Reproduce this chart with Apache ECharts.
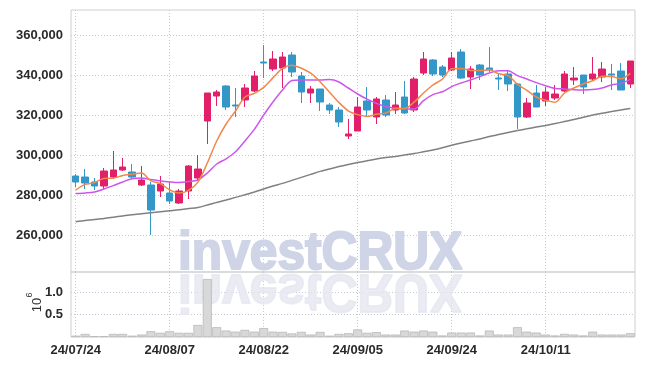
<!DOCTYPE html>
<html><head><meta charset="utf-8">
<script src="https://cdn.jsdelivr.net/npm/echarts@6/dist/echarts.min.js"></script>
<style>html,body{margin:0;padding:0;background:#fff}#c{width:645px;height:366px}</style>
</head><body><div id="c"></div>
<script>
const dates = ['24/07/24','24/07/25','24/07/26','24/07/29','24/07/30','24/07/31','24/08/01','24/08/02','24/08/05','24/08/06',
'24/08/07','24/08/08','24/08/09','24/08/12','24/08/13','24/08/14','24/08/16','24/08/19','24/08/20','24/08/21',
'24/08/22','24/08/23','24/08/26','24/08/27','24/08/28','24/08/29','24/08/30','24/09/02','24/09/03','24/09/04',
'24/09/05','24/09/06','24/09/09','24/09/10','24/09/11','24/09/12','24/09/13','24/09/19','24/09/20','24/09/23',
'24/09/24','24/09/25','24/09/26','24/09/27','24/09/30','24/10/02','24/10/04','24/10/07','24/10/08','24/10/10',
'24/10/11','24/10/14','24/10/15','24/10/16','24/10/17','24/10/18','24/10/21','24/10/22','24/10/23','24/10/24'];

const opens  = [289500,289000,286500,284500,289000,292500,291500,285000,285000,282000,
281000,276000,282000,288500,317000,329500,334500,325000,327500,332000,
346500,343000,343500,350000,339500,331000,333000,325000,322500,309500,
312000,327000,319000,327500,322500,329000,322500,341000,347500,344000,
342500,351500,339000,345000,343500,338500,340500,335500,319000,331000,
327000,328500,332000,337500,340000,338000,339000,340500,342000,335500];
const closes = [286500,286000,284500,292000,292500,294000,289000,287500,272500,285500,
277000,282000,294500,293000,331000,331500,324000,324500,333500,339500,
346000,348000,349000,341500,331500,333000,326500,322500,316500,310500,
324000,322500,328000,320000,325000,321000,338000,348000,340500,340000,
348500,338500,343000,340000,342500,338000,335500,319000,326000,324000,
331500,330500,340500,338500,334000,340500,343000,340000,332500,347000];
const lows   = [284000,283000,282500,283000,288000,292000,288500,284500,260000,279000,
275500,275500,278000,287500,305500,324500,322500,319000,324000,331500,
338500,342000,333500,339000,326000,326000,322000,320500,314000,308000,
312000,319500,315500,319000,320500,320500,321500,340000,339500,339000,
342000,338000,333000,337500,341500,332500,332000,313000,318500,324000,
324500,327500,331500,335000,330500,337500,336500,332500,332500,333500];
const highs  = [290500,293000,288500,293500,302000,298500,295500,294500,286500,289500,
286500,283000,295000,300000,331000,332500,335000,333500,335500,342000,
355000,352000,351500,351500,341500,334500,333000,326000,324000,318000,
329000,334000,329000,330000,331500,337000,339000,351500,348000,345000,
351500,353000,344500,345500,354000,340500,342000,336000,328500,335000,
334000,335000,342000,344000,340000,349000,346500,345500,346000,347000];

const ma5 = [282500,285300,286200,288300,288400,289800,290400,291000,287100,285700,
282600,281000,282300,286400,296000,307000,315500,322000,329000,330800,
333800,338700,343300,344900,343400,340900,336600,331400,326300,322100,
320200,319300,320400,321000,323200,323300,326400,331000,335000,337900,
343100,343200,342300,342200,342600,340600,339700,335300,332300,329000,
327400,326400,331000,333500,335500,337100,339400,339300,338100,340800];
const ma10 = [280700,281000,281500,283000,284700,286500,288100,288500,287700,287000,
286500,286200,286700,287500,291000,295500,298100,301600,307000,312800,
320000,326600,332500,337200,337500,337500,337500,337700,336500,333500,
330500,327900,325800,324300,323400,323000,323000,327200,330200,331600,
334200,336000,337500,339200,341000,342100,342100,339700,338000,336200,
334600,333300,333000,332600,332500,332700,333500,335000,335800,337800];
const maLong = [266600,267200,267700,268300,268900,269500,270100,270600,271100,271600,
272100,272600,273200,273800,275000,276300,277500,278800,280100,281500,
283000,284500,285800,287300,288800,290300,291800,293000,294200,295200,
296200,297100,298000,298700,299300,300000,300700,301600,302500,303600,
304900,306000,307000,308000,309200,310200,311200,312200,313100,314000,
314800,315700,316700,317700,318900,320000,320900,321700,322500,323300];

const volumes = [0.03,0.07,0.02,0.02,0.07,0.07,0.03,0.055,0.13,0.095,
0.13,0.095,0.095,0.27,1.30,0.22,0.145,0.12,0.16,0.12,
0.20,0.12,0.115,0.08,0.115,0.055,0.115,0.03,0.07,0.085,
0.17,0.095,0.11,0.055,0.055,0.145,0.12,0.145,0.12,0.035,
0.10,0.10,0.10,0.035,0.145,0.055,0.055,0.22,0.12,0.10,
0.055,0.035,0.07,0.055,0.035,0.12,0.055,0.055,0.055,0.085];

const priceTicks = [260000,280000,300000,320000,340000,360000];
const volumeTicks = [0.5,1.0];

const ohlc = dates.map((d,i)=>[opens[i], closes[i], lows[i], highs[i]]);
const FONT = '"Liberation Sans", Arial, sans-serif';
const gridLine = {show:true, lineStyle:{color:'#c6c8d8', type:[1,2], width:1}};
const labelStyle = {color:'#2a2a2a', fontSize:13, fontWeight:'bold', fontFamily:FONT};

const chart = echarts.init(document.getElementById('c'), null, {renderer:'canvas'});
chart.setOption({
  animation:false,
  backgroundColor:'#ffffff',
  grid:[
    {left:71, right:10, top:10, height:262, show:true, borderColor:'#cfcfcf', borderWidth:1},
    {left:71, right:10, top:272, height:65, show:true, borderColor:'#cfcfcf', borderWidth:1}
  ],
  xAxis:[
    {type:'category', gridIndex:0, data:dates, boundaryGap:true,
     axisLine:{show:false}, axisTick:{show:false}, axisLabel:{show:false},
     splitLine:Object.assign({interval:9, alignWithLabel:true}, gridLine)},
    {type:'category', gridIndex:1, data:dates, boundaryGap:true,
     axisLine:{show:false}, axisTick:{show:false},
     axisLabel:Object.assign({show:true, interval:9, margin:7}, labelStyle),
     splitLine:Object.assign({interval:9, alignWithLabel:true}, gridLine)}
  ],
  yAxis:[
    {type:'value', gridIndex:0, min:241500, max:372500,
     axisLine:{show:false}, axisTick:{show:false, customValues:priceTicks},
     axisLabel:Object.assign({customValues:priceTicks, margin:8,
       formatter:v=>Number(v).toLocaleString('en-US')}, labelStyle),
     splitLine:gridLine},
    {type:'value', gridIndex:1, min:0, max:1.457,
     axisLine:{show:false}, axisTick:{show:false, customValues:volumeTicks},
     axisLabel:Object.assign({customValues:volumeTicks, margin:8,
       formatter:v=>Number(v).toFixed(1)}, labelStyle),
     splitLine:gridLine}
  ],
  graphic:[
    {type:'text', z:1, x:0, y:0, originX:178, originY:272, scaleX:0.92,
     style:{x:178, y:254.5, text:'investCRUX', font:'bold 54px '+FONT, fill:'#cfd4e7',
            stroke:'#cfd4e7', lineWidth:2, verticalAlign:'middle', align:'left'}},
    {type:'text', z:1, x:0, y:0, originX:178, originY:272, scaleX:0.92, scaleY:-1,
     style:{x:178, y:254.5, text:'investCRUX', font:'bold 54px '+FONT, fill:'#e4e6ef',
            stroke:'#e4e6ef', lineWidth:2, opacity:0.75, verticalAlign:'middle', align:'left'}},
    {type:'text', x:37, y:305, rotation:Math.PI/2,
     style:{x:0, y:0, text:'10', font:'13px '+FONT, fill:'#333', align:'center', verticalAlign:'middle'}},
    {type:'text', x:30, y:295, rotation:Math.PI/2,
     style:{x:0, y:0, text:'6', font:'9px '+FONT, fill:'#333', align:'center', verticalAlign:'middle'}}
  ],
  series:[
    {type:'candlestick', xAxisIndex:0, yAxisIndex:0, data:ohlc, barWidth:7,
     itemStyle:{color:'#e2206a', color0:'#3397c8', borderColor:'#e2206a', borderColor0:'#3397c8', borderWidth:1}},
    {type:'line', xAxisIndex:0, yAxisIndex:0, data:maLong, showSymbol:false, smooth:0.3,
     lineStyle:{color:'#808080', width:1.5}},
    {type:'line', xAxisIndex:0, yAxisIndex:0, data:ma10, showSymbol:false, smooth:0.3,
     lineStyle:{color:'#cc55ee', width:1.5}},
    {type:'line', xAxisIndex:0, yAxisIndex:0, data:ma5, showSymbol:false, smooth:0.3,
     lineStyle:{color:'#f0884a', width:1.5}},
    {type:'bar', xAxisIndex:1, yAxisIndex:1, data:volumes, barCategoryGap:'4%',
     itemStyle:{color:'#d8d8d8', borderColor:'#b9b9b9', borderWidth:0.8}}
  ]
});
</script></body></html>
